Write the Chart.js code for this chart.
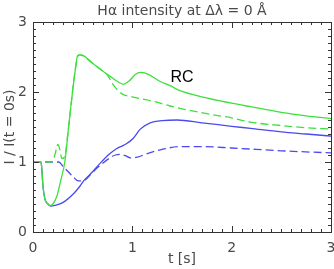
<!DOCTYPE html>
<html><head><meta charset="utf-8">
<script src="https://cdn.jsdelivr.net/npm/chart.js@4/dist/chart.umd.min.js"></script>
<style>html,body{margin:0;padding:0;background:#fff}#wrap{width:334px;height:269px}</style>
</head><body><div id="wrap"><canvas id="c" width="334" height="269"></canvas></div>
<script>
const chartTitle = 'Hα intensity at Δλ = 0 Å';
const xTitle = 't [s]';
const yTitle = 'I / I(t = 0s)';
const annotationText = 'RC';
const annotationPos = [1.5, 2.2];

const tGreenSolid = [0, 0.08, 0.09, 0.10, 0.12, 0.15, 0.17, 0.20, 0.24, 0.28, 0.32, 0.37, 0.42, 0.45, 0.48, 0.51, 0.60, 0.70, 0.78, 0.85, 0.91, 0.97, 1.03, 1.08, 1.15, 1.28, 1.38, 1.48, 1.70, 2.00, 2.19, 2.50, 2.75, 3.00];
const yGreenSolid = [1.0, 1.0, 0.88, 0.66, 0.47, 0.40, 0.38, 0.40, 0.51, 0.74, 1.00, 1.65, 2.26, 2.52, 2.53, 2.52, 2.41, 2.30, 2.22, 2.15, 2.11, 2.16, 2.25, 2.28, 2.26, 2.15, 2.09, 2.02, 1.93, 1.84, 1.79, 1.71, 1.66, 1.62];

const tGreenDashed = [0, 0.19, 0.22, 0.25, 0.27, 0.29, 0.32, 0.35, 0.38, 0.42, 0.46, 0.51, 0.60, 0.70, 0.75, 0.80, 0.85, 0.90, 1.00, 1.10, 1.20, 1.38, 1.50, 1.75, 2.00, 2.19, 2.50, 2.75, 3.00];
const yGreenDashed = [1.0, 1.0, 1.10, 1.25, 1.18, 1.05, 1.08, 1.40, 1.78, 2.26, 2.53, 2.51, 2.41, 2.30, 2.24, 2.12, 2.03, 1.97, 1.93, 1.90, 1.87, 1.80, 1.76, 1.69, 1.63, 1.57, 1.52, 1.49, 1.47];

const tBlueSolid = [0, 0.08, 0.09, 0.10, 0.12, 0.15, 0.18, 0.22, 0.30, 0.41, 0.47, 0.51, 0.60, 0.675, 0.775, 0.84, 0.90, 0.94, 1.01, 1.08, 1.18, 1.30, 1.45, 1.70, 2.00, 2.19, 2.50, 2.75, 3.00];
const yBlueSolid = [1.0, 1.0, 0.88, 0.66, 0.47, 0.40, 0.37, 0.38, 0.42, 0.55, 0.65, 0.73, 0.86, 0.98, 1.12, 1.19, 1.23, 1.26, 1.34, 1.47, 1.56, 1.59, 1.60, 1.56, 1.51, 1.48, 1.43, 1.40, 1.37];

const tBlueDashed = [0, 0.20, 0.26, 0.30, 0.355, 0.41, 0.456, 0.52, 0.58, 0.65, 0.775, 0.83, 0.88, 0.93, 0.98, 1.05, 1.15, 1.30, 1.48, 1.70, 2.00, 2.50, 3.00];
const yBlueDashed = [1.0, 1.0, 1.00, 0.94, 0.86, 0.78, 0.73, 0.74, 0.82, 0.92, 1.06, 1.10, 1.11, 1.09, 1.06, 1.07, 1.12, 1.18, 1.22, 1.22, 1.20, 1.16, 1.13];

const xTicks = [0, 1, 2, 3];
const yTicks = [0, 1, 2, 3];

const GREEN = '#3de03d';
const BLUE = '#4a4af0';
const AXIS = '#333333';
const TEXT = '#4a4a4a';
const FONT = 'DejaVu Sans';

function pts(t, y) { return t.map((v, i) => ({x: v, y: y[i]})); }

const frameTicks = {
  id: 'frameTicks',
  afterDatasetsDraw(chart) {
    const {ctx, chartArea: a, scales: {x, y}} = chart;
    ctx.save();
    ctx.strokeStyle = AXIS;
    ctx.lineWidth = 1;
    ctx.strokeRect(Math.round(a.left) + 0.5, Math.round(a.top) + 0.5, Math.round(a.right - a.left), Math.round(a.bottom - a.top));
    ctx.beginPath();
    for (let i = 0; i <= 30; i++) {
      const v = i / 10;
      const len = (i % 10 === 0) ? 6 : 3;
      const px = Math.round(x.getPixelForValue(v)) + 0.5;
      ctx.moveTo(px, a.bottom); ctx.lineTo(px, a.bottom - len);
      ctx.moveTo(px, a.top); ctx.lineTo(px, a.top + len);
      const py = Math.round(y.getPixelForValue(v)) + 0.5;
      ctx.moveTo(a.left, py); ctx.lineTo(a.left + len, py);
      ctx.moveTo(a.right, py); ctx.lineTo(a.right - len, py);
    }
    ctx.stroke();
    ctx.fillStyle = '#000';
    ctx.font = '16px "Liberation Sans"';
    ctx.textAlign = 'center';
    ctx.textBaseline = 'middle';
    ctx.fillText(annotationText, x.getPixelForValue(annotationPos[0]), y.getPixelForValue(annotationPos[1]));
    ctx.restore();
  }
};

new Chart(document.getElementById('c'), {
  type: 'line',
  data: {
    datasets: [
      {label: 'green solid', data: pts(tGreenSolid, yGreenSolid), borderColor: GREEN, borderWidth: 1.3},
      {label: 'green dashed', data: pts(tGreenDashed, yGreenDashed), borderColor: GREEN, borderWidth: 1.3, borderDash: [8, 4]},
      {label: 'blue solid', data: pts(tBlueSolid, yBlueSolid), borderColor: BLUE, borderWidth: 1.3},
      {label: 'blue dashed', data: pts(tBlueDashed, yBlueDashed), borderColor: BLUE, borderWidth: 1.3, borderDash: [8, 4]}
    ]
  },
  options: {
    responsive: false,
    animation: false,
    devicePixelRatio: 1,
    layout: {padding: {left: 0, right: 3, top: 0, bottom: 0}},
    elements: {point: {radius: 0}, line: {cubicInterpolationMode: 'monotone', fill: false}},
    plugins: {
      legend: {display: false},
      tooltip: {enabled: false},
      title: {display: true, text: chartTitle, fullSize: false, color: TEXT,
              font: {family: FONT, size: 14, weight: 'normal'}, padding: {top: 2.6, bottom: 2.6}}
    },
    scales: {
      x: {
        type: 'linear', min: 0, max: 3,
        grid: {display: false, drawTicks: false},
        border: {display: false},
        afterBuildTicks: s => { s.ticks = xTicks.map(v => ({value: v})); },
        ticks: {color: TEXT, font: {family: FONT, size: 14}, padding: 8, maxRotation: 0, autoSkip: false},
        title: {display: true, text: xTitle, color: TEXT, font: {family: FONT, size: 14}, padding: {top: 0, bottom: 1}},
        afterFit: s => { s.height = 37; s.paddingLeft = 0; s.paddingRight = 0; }
      },
      y: {
        type: 'linear', min: 0, max: 3,
        grid: {display: false, drawTicks: false},
        border: {display: false},
        afterBuildTicks: s => { s.ticks = yTicks.map(v => ({value: v})); },
        ticks: {color: TEXT, font: {family: FONT, size: 14}, padding: 6, autoSkip: false},
        title: {display: true, text: yTitle, color: TEXT, font: {family: FONT, size: 14}, padding: {top: 1.5, bottom: 0}},
        afterFit: s => { s.width = 33; s.paddingTop = 0; s.paddingBottom = 0; }
      }
    }
  },
  plugins: [frameTicks]
});
</script>
</body></html>
